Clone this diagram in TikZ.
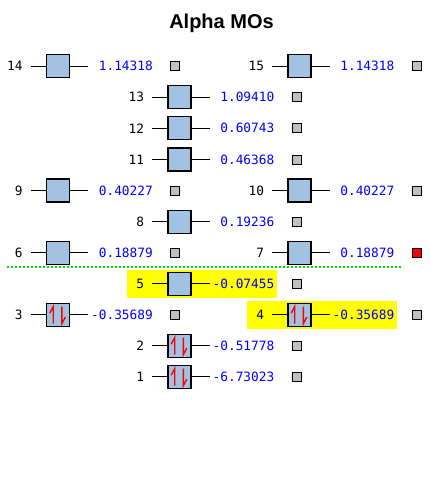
\documentclass[tikz,border=0pt]{standalone}
\usepackage{fontspec}
\setmainfont{Liberation Sans}
\newfontfamily\monofont{DejaVu Sans Mono}
\usetikzlibrary{calc}
\definecolor{moblue}{RGB}{163,193,224}
\definecolor{egray}{RGB}{192,192,192}
\definecolor{dotgreen}{RGB}{0,220,0}
\definecolor{hlyellow}{RGB}{255,255,0}
\tikzset{
  mobx/.style={draw=black, line width=1.3pt, fill=moblue, minimum size=23pt, inner sep=0pt},
  stub/.style={draw=black, line width=1pt},
  lbl/.style={anchor=east, inner sep=0pt, text=black, font=\monofont\fontsize{12.8}{14}\selectfont},
  en/.style={anchor=east, inner sep=0pt, text=blue, font=\monofont\fontsize{12.8}{14}\selectfont},
  sq/.style={draw=black, line width=1pt, minimum size=9pt, inner sep=0pt},
  spin/.style={draw=red, line width=1.4pt, line cap=butt},
}
\newcommand\molevel[7]{%
  \node[mobx] (#1) at (#2,#3) {};
  \draw[stub] (#1.west) -- ++(-15,0) coordinate (#1l);
  \draw[stub] (#1.east) -- ++(18,0) coordinate (#1r);
  \node[lbl] (#1n) at ($(#1l)+(-8,0)$) {#4};
  \node[en] (#1e) at ($(#1.center)+(95,0)$) {#5};
  \node[sq, fill=#7] (#1s) at ($(#1.center)+(117,0)$) {};
  \ifnum#6=1
    \draw[spin] ($(#1.center)+(-4.8,9)$) -- ($(#1.center)+(-4.8,-8)$) -- ($(#1.center)+(-8.3,-1.5)$);
    \draw[spin] ($(#1.center)+(3.8,-8)$) -- ($(#1.center)+(3.8,9)$) -- ($(#1.center)+(7.3,2.5)$);
  \fi
}
\begin{document}
\begin{tikzpicture}[x=1pt,y=-1pt]
  \useasboundingbox (0,0) rectangle (430,488);
  \node[font=\bfseries\fontsize{20}{24}\selectfont, anchor=base, inner sep=0pt] (title) at (221.5,28) {Alpha MOs};
  % highlights
  \fill[hlyellow] (127,269.5) rectangle (277,297.5);
  \fill[hlyellow] (247,300.5) rectangle (397,328.5);
  % homo-lumo separator
  \coordinate (gapL) at (7,267);
  \coordinate (gapR) at (401,267);
  \draw[dotgreen, line width=2pt, dash pattern=on 2pt off 2pt] (gapL) -- (gapR);
  % levels
  \molevel{m14}{58}{66}{14}{1.14318}{0}{egray}
  \molevel{m15}{299.5}{66}{15}{1.14318}{0}{egray}
  \molevel{m13}{179.5}{97}{13}{1.09410}{0}{egray}
  \molevel{m12}{179.5}{128.3}{12}{0.60743}{0}{egray}
  \molevel{m11}{179.5}{159.5}{11}{0.46368}{0}{egray}
  \molevel{m9}{58}{190.6}{9}{0.40227}{0}{egray}
  \molevel{m10}{299.5}{190.6}{10}{0.40227}{0}{egray}
  \molevel{m8}{179.5}{221.7}{8}{0.19236}{0}{egray}
  \molevel{m6}{58}{252.7}{6}{0.18879}{0}{egray}
  \molevel{m7}{299.5}{252.7}{7}{0.18879}{0}{red}
  \molevel{m5}{179.5}{283.7}{5}{-0.07455}{0}{egray}
  \molevel{m3}{58}{314.7}{3}{-0.35689}{1}{egray}
  \molevel{m4}{299.5}{314.7}{4}{-0.35689}{1}{egray}
  \molevel{m2}{179.5}{345.7}{2}{-0.51778}{1}{egray}
  \molevel{m1}{179.5}{376.7}{1}{-6.73023}{1}{egray}
\end{tikzpicture}
\end{document}
